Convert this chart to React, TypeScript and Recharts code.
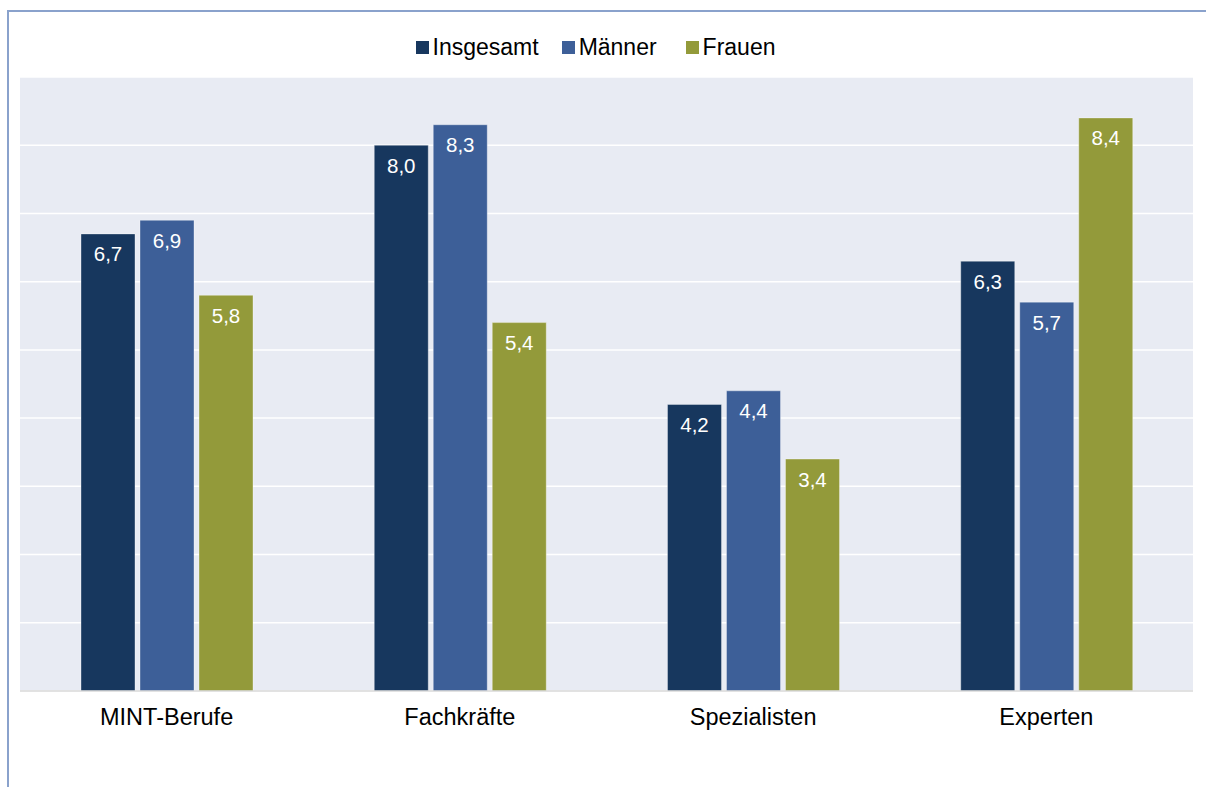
import { Bar, BarChart, CartesianGrid, LabelList, Legend, XAxis, YAxis } from 'recharts';

// Categories and series values
const categories = ['MINT-Berufe', 'Fachkräfte', 'Spezialisten', 'Experten'];
const insgesamt = [6.7, 8.0, 4.2, 6.3];
const maenner = [6.9, 8.3, 4.4, 5.7];
const frauen = [5.8, 5.4, 3.4, 8.4];
const yTicks = [0, 1, 2, 3, 4, 5, 6, 7, 8, 9];

const SERIES = [
  { key: 'insgesamt', name: 'Insgesamt', color: '#17375e' },
  { key: 'maenner', name: 'Männer', color: '#3d5f98' },
  { key: 'frauen', name: 'Frauen', color: '#939a3a' },
];

const FONT = '"Liberation Sans", Arial, sans-serif';

const data = categories.map((cat, i) => ({
  cat,
  insgesamt: insgesamt[i],
  maenner: maenner[i],
  frauen: frauen[i],
}));

const fmt = (v: number) => v.toFixed(1).replace('.', ',');

function ValueLabel(props: any) {
  const { x, y, width, value } = props;
  return (
    <text
      x={x + width / 2}
      y={y + 20}
      fill="#ffffff"
      fontSize={20.5}
      fontFamily={FONT}
      textAnchor="middle"
      dominantBaseline="central"
    >
      {fmt(value)}
    </text>
  );
}

const legendGaps = [0, 23, 29];

function LegendContent() {
  return (
    <div
      style={{
        height: 51,
        display: 'flex',
        justifyContent: 'center',
        alignItems: 'flex-start',
        paddingTop: 9,
        paddingRight: 22,
        boxSizing: 'border-box',
        fontFamily: FONT,
        fontSize: 23,
        lineHeight: '24px',
        color: '#000',
      }}
    >
      {SERIES.map((s, i) => (
        <div
          key={s.key}
          style={{ display: 'flex', alignItems: 'center', marginLeft: legendGaps[i] }}
        >
          <span
            style={{ width: 13, height: 13, background: s.color, marginRight: 4, display: 'inline-block' }}
          />
          <span>{s.name}</span>
        </div>
      ))}
    </div>
  );
}

export default function App() {
  return (
    <div style={{ position: 'absolute', left: 0, top: 0, width: 1206, height: 787, background: '#fff' }}>
      <div
        style={{
          position: 'absolute',
          left: 7,
          top: 10,
          width: 1199,
          height: 777,
          borderTop: '2px solid #8aa2cc',
          borderLeft: '2px solid #8aa2cc',
          boxSizing: 'border-box',
        }}
      />
      <BarChart
        width={1206}
        height={787}
        data={data}
        margin={{ top: 26, right: 13, bottom: 66, left: 20 }}
        barSize={54}
        barGap={5}
        style={{ position: 'absolute', left: 0, top: 0 }}
      >
        <CartesianGrid
          vertical={false}
          stroke="#ffffff"
          strokeWidth={1.5}
          fill="#e8ebf3"
          fillOpacity={1}
        />
        <XAxis
          dataKey="cat"
          axisLine={{ stroke: '#d9d9d9', strokeWidth: 1.5 }}
          tickLine={false}
          tick={{ fontSize: 23.5, fill: '#000', fontFamily: FONT }}
          tickMargin={11}
        />
        <YAxis hide domain={[0, 9]} ticks={yTicks} />
        <Legend verticalAlign="top" align="center" content={<LegendContent />} />
        {SERIES.map((s) => (
          <Bar
            key={s.key}
            dataKey={s.key}
            name={s.name}
            fill={s.color}
            stroke="rgba(255,255,255,0.35)"
            strokeWidth={1}
            isAnimationActive={false}
          >
            <LabelList dataKey={s.key} content={<ValueLabel />} />
          </Bar>
        ))}
      </BarChart>
    </div>
  );
}
